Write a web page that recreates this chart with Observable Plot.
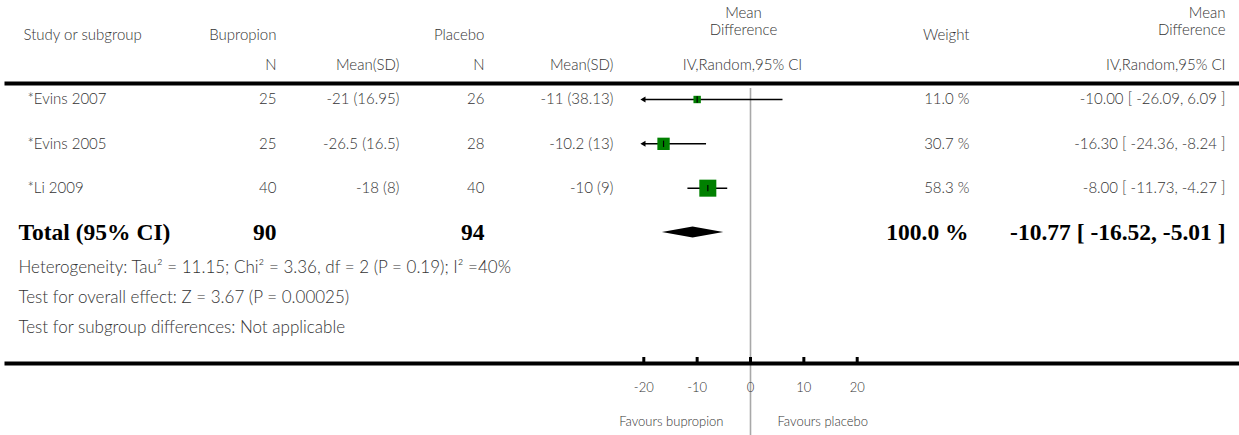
<!DOCTYPE html>
<html>
<head>
<meta charset="utf-8">
<script src="https://cdn.jsdelivr.net/npm/d3@7"></script>
<script src="https://cdn.jsdelivr.net/npm/@observablehq/plot@0.6"></script>
<style>
  html, body { margin: 0; padding: 0; background: #fff; }
  #chart svg { display: block; }
</style>
</head>
<body>
<div id="chart"></div>
<script>
// ---------- data ----------
const studies    = ["*Evins 2007", "*Evins 2005", "*Li 2009"];
const bupN       = [25, 25, 40];
const bupMeanSD  = ["-21 (16.95)", "-26.5 (16.5)", "-18 (8)"];
const plaN       = [26, 28, 40];
const plaMeanSD  = ["-11 (38.13)", "-10.2 (13)", "-10 (9)"];
const meanDiff   = [-10.00, -16.30, -8.00];
const ciLow      = [-26.09, -24.36, -11.73];
const ciHigh     = [6.09, -8.24, -4.27];
const weights    = [11.0, 30.7, 58.3];

const totalLabel  = "Total (95% CI)";
const totalBupN   = 90;
const totalPlaN   = 94;
const totalWeight = 100.0;
const totalMD     = -10.77;
const totalLow    = -16.52;
const totalHigh   = -5.01;

const xDomain   = [-20, 20];
const xTicks    = [-20, -10, 0, 10, 20];
const nullValue = 0;
const favours   = ["Favours bupropion", "Favours placebo"];

const headerRow1 = ["Study or subgroup", "Bupropion", "Placebo", "Weight"];
const headerMD   = ["Mean", "Difference"];
const headerRow2 = ["N", "Mean(SD)", "N", "Mean(SD)", "IV,Random,95% CI", "IV,Random,95% CI"];
const footnotes  = [
  "Heterogeneity: Tau² = 11.15; Chi² = 3.36, df = 2 (P = 0.19); I² =40%",
  "Test for overall effect: Z = 3.67 (P = 0.00025)",
  "Test for subgroup differences: Not applicable"
];

// ---------- layout (pixels) ----------
const W = 1239, H = 435;
const mTop = 83, mBottom = 72, mLeft = 6, mRight = 0;
const frameBottom = H - mBottom;
const font = "Lato, 'Open Sans', sans-serif";
const grey = "#333";
const bodySize = 15;
const noteSize = 17;

const rows = studies.map((s, i) => ({
  row: i, study: s, bupN: bupN[i], bupMS: bupMeanSD[i], plaN: plaN[i], plaMS: plaMeanSD[i],
  md: meanDiff[i], lo: ciLow[i], hi: ciHigh[i], w: weights[i]
}));
const total = {row: studies.length, label: totalLabel, bupN: totalBupN, plaN: totalPlaN,
  w: totalWeight, md: totalMD, lo: totalLow, hi: totalHigh};

const fmtMD = d => `${d.md.toFixed(2)} [ ${d.lo.toFixed(2)}, ${d.hi.toFixed(2)} ]`;
const fmtW = d => `${d.w.toFixed(1)} %`;

const baseText = {fill: grey, fontSize: bodySize, fontWeight: 300, lineAnchor: "middle"};

// text placed at a pixel column (via frameAnchor + dx)
function colText(data, text, xPix, anchor, extra = {}) {
  return Plot.text(data, Object.assign({}, baseText, {
    y: "row", text, frameAnchor: "left", dx: xPix - mLeft, textAnchor: anchor
  }, extra));
}
function headText(str, xPix, yPix, anchor) {
  return Plot.text([str], Object.assign({}, baseText, {
    text: d => d, frameAnchor: "top-left", dx: xPix - mLeft, dy: yPix - mTop, textAnchor: anchor
  }));
}

const lineSymbol = {
  draw(ctx, size) { const r = Math.sqrt(size / Math.PI); ctx.moveTo(0, -r); ctx.lineTo(0, r); }
};

const dh = 5.4 / 44; // diamond half-height in row units
const diamond = [
  {x: total.lo, y1: total.row, y2: total.row},
  {x: total.md, y1: total.row - dh, y2: total.row + dh},
  {x: total.hi, y1: total.row, y2: total.row}
];

const boldSerif = {fill: "black", fontFamily: "'Liberation Serif', 'Times New Roman', serif",
  fontWeight: "bold", fontSize: 23.5};

const chart = Plot.plot({
  width: W, height: H,
  marginTop: mTop, marginBottom: mBottom, marginLeft: mLeft, marginRight: mRight,
  style: {fontFamily: font, fontSize: bodySize + "px", background: "white", color: grey},
  x: {domain: xDomain, range: [643.3, 856.7], axis: null},
  y: {type: "linear", domain: [0, 3], range: [99, 232], axis: null},
  r: {type: "sqrt", domain: [0, d3.max(weights)], range: [0, 9.6]},
  marks: [
    // null line
    Plot.ruleX([nullValue], {x: d => d, insetTop: 5, insetBottom: -mBottom, stroke: "#a8a8a8", strokeWidth: 1.6}),
    // header / axis lines
    Plot.frame({anchor: "top", stroke: "black", strokeWidth: 4}),
    Plot.frame({anchor: "bottom", stroke: "black", strokeWidth: 4}),
    // axis ticks (upward) and labels
    Plot.ruleX(xTicks, {x: d => d, insetTop: (frameBottom - mTop) - 6, stroke: "black", strokeWidth: 3}),
    Plot.axisX(xTicks, {anchor: "bottom", tickSize: 0, tickPadding: 19, tickFormat: d => String(d),
      fontSize: 13, fill: grey, fontWeight: 300, label: null}),
    // favours labels
    Plot.text([favours[0]], Object.assign({}, baseText, {x: () => nullValue, text: d => d, frameAnchor: "bottom",
      dy: 58, dx: -27, textAnchor: "end", fontSize: 13})),
    Plot.text([favours[1]], Object.assign({}, baseText, {x: () => nullValue, text: d => d, frameAnchor: "bottom",
      dy: 58, dx: 27, textAnchor: "start", fontSize: 13})),
    // confidence intervals
    Plot.ruleY(rows, {y: "row", x1: d => Math.max(d.lo, xDomain[0]), x2: d => Math.min(d.hi, xDomain[1]), stroke: "black", strokeWidth: 1.5}),
    Plot.dot(rows.filter(d => d.lo < xDomain[0]), {x: () => xDomain[0], y: "row", symbol: "triangle", rotate: -90, r: 2.2, fill: "black"}),
    // weighted squares
    Plot.dot(rows, {x: "md", y: "row", r: "w", symbol: "square", fill: "#008000"}),
    Plot.dot(rows, {x: "md", y: "row", r: 3.2, symbol: lineSymbol, stroke: "black", strokeWidth: 1.2}),
    // pooled diamond
    Plot.areaY(diamond, {x: "x", y1: "y1", y2: "y2", fill: "black"}),
    // study rows text
    colText(rows, "study", 27, "start"),
    colText(rows, "bupN", 276, "end"),
    colText(rows, "bupMS", 399, "end"),
    colText(rows, "plaN", 484, "end"),
    colText(rows, "plaMS", 613, "end"),
    colText(rows, fmtW, 969, "end"),
    colText(rows, fmtMD, 1225, "end"),
    // total row
    colText([total], "label", 18, "start", boldSerif),
    colText([total], "bupN", 276, "end", boldSerif),
    colText([total], "plaN", 484, "end", boldSerif),
    colText([total], fmtW, 968, "end", boldSerif),
    colText([total], fmtMD, 1225, "end", boldSerif),
    // headers
    headText(headerRow1[0], 23, 35, "start"),
    headText(headerRow1[1], 276, 35, "end"),
    headText(headerRow1[2], 484, 35, "end"),
    headText(headerRow1[3], 969, 35, "end"),
    headText(headerMD[0], 743, 13, "middle"),
    headText(headerMD[1], 743, 30, "middle"),
    headText(headerMD[0], 1225, 13, "end"),
    headText(headerMD[1], 1225, 30, "end"),
    headText(headerRow2[0], 276, 65, "end"),
    headText(headerRow2[1], 399, 65, "end"),
    headText(headerRow2[2], 484, 65, "end"),
    headText(headerRow2[3], 613, 65, "end"),
    headText(headerRow2[4], 742, 65, "middle"),
    headText(headerRow2[5], 1225, 65, "end"),
    // footnotes
    ...footnotes.map((t, i) => Plot.text([t], Object.assign({}, baseText, {
      text: d => d, frameAnchor: "bottom-left", dx: 18 - mLeft, dy: 267 + 30 * i - frameBottom,
      textAnchor: "start", fontSize: noteSize
    })))
  ]
});
document.getElementById("chart").appendChild(chart);
</script>
</body>
</html>
